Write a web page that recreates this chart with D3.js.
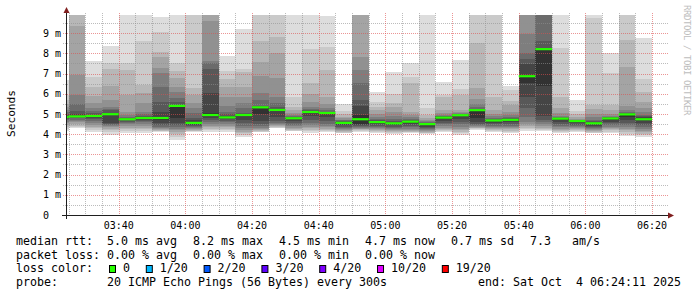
<!DOCTYPE html>
<html><head><meta charset="utf-8">
<script src="https://cdn.jsdelivr.net/npm/d3@7"></script>
<style>
html,body{margin:0;padding:0;background:#fff;}
svg{display:block;}
text{font-family:"DejaVu Sans Mono",monospace;}
</style></head><body>
<svg id="c" width="697" height="297"></svg>
<script>
// ---- data ----
const barEnd = ["03:25","03:30","03:35","03:40","03:45","03:50","03:55","04:00","04:05","04:10",
  "04:15","04:20","04:25","04:30","04:35","04:40","04:45","04:50","04:55","05:00",
  "05:05","05:10","05:15","05:20","05:25","05:30","05:35","05:40","05:45","05:50",
  "05:55","06:00","06:05","06:10","06:15","06:20"];
const medians = [4.85,4.88,4.9,4.99,4.74,4.8,4.8,5.4,4.56,4.95,
  4.83,4.95,5.33,5.2,4.79,5.1,5.05,4.56,4.74,4.6,
  4.54,4.62,4.5,4.82,4.94,5.19,4.68,4.71,6.87,8.21,
  4.77,4.65,4.54,4.78,4.98,4.74];
// 20 sorted ping times (ms) per 300 s step
const pings = [
 [4.15,4.25,4.35,4.45,4.55,4.62,4.7,4.76,4.8,4.83,4.87,4.92,5.0,5.1,5.2,5.35,5.5,5.7,5.95,6.7],
 [4.29,4.35,4.42,4.5,4.58,4.65,4.72,4.78,4.83,4.86,4.92,5.0,5.15,5.48,5.94,6.93,9.36,10.5,11.5,12.5],
 [4.12,4.2,4.3,4.38,4.46,4.56,4.66,4.75,4.82,4.87,4.93,4.97,5.03,5.15,5.3,5.56,5.88,6.32,6.85,7.63],
 [3.96,4.1,4.2,4.28,4.35,4.41,4.46,4.5,4.55,4.96,5.02,5.07,5.2,5.25,5.36,5.69,6.39,7.23,7.51,8.37],
 [4.06,4.15,4.24,4.32,4.4,4.48,4.55,4.62,4.68,4.72,4.76,4.78,4.82,4.87,4.95,5.11,5.94,7.18,7.51,10.5],
 [4.06,4.15,4.24,4.33,4.42,4.5,4.58,4.66,4.72,4.77,4.83,4.87,4.92,4.98,5.11,5.53,6.02,6.44,8.63,10.2],
 [4.12,4.15,4.18,4.22,4.27,4.32,4.38,4.45,4.56,4.72,4.84,5.11,5.61,6.32,7.05,7.26,7.8,8.08,9.07,9.82],
 [3.71,3.85,4.0,4.1,4.2,4.27,4.35,4.45,4.57,4.79,5.42,5.45,5.61,5.81,6.1,6.32,6.77,7.13,7.54,10.5],
 [4.12,4.15,4.18,4.22,4.26,4.3,4.35,4.4,4.45,4.52,4.6,4.68,4.8,5.03,5.3,5.53,5.94,6.27,10.3,11],
 [4.12,4.2,4.28,4.35,4.42,4.5,4.6,4.72,4.82,4.9,5.03,6.02,7.21,7.54,7.6,9.62,10.0,10.2,10.6,11],
 [4.12,4.19,4.26,4.34,4.42,4.5,4.58,4.66,4.74,4.8,4.87,4.92,4.98,5.1,5.4,5.86,6.32,6.75,7.14,7.87],
 [3.88,3.96,4.05,4.12,4.22,4.32,4.42,4.55,4.7,4.9,4.97,4.99,5.03,5.3,5.53,5.83,6.32,7.1,7.21,9.19],
 [4.1,4.13,4.16,4.2,4.26,4.32,4.4,4.5,4.67,5.0,5.35,5.37,5.4,5.69,6.06,6.88,7.59,8.63,10.3,11],
 [4.29,4.33,4.37,4.41,4.45,4.5,4.56,4.65,4.85,5.15,5.24,5.27,5.35,5.55,5.86,6.77,8.0,8.83,10.1,10.4],
 [4.14,4.18,4.22,4.27,4.33,4.4,4.47,4.55,4.65,4.74,4.81,4.83,4.86,4.9,4.95,5.05,5.2,5.36,5.86,10.5],
 [4.08,4.15,4.22,4.3,4.38,4.45,4.55,4.72,4.92,5.05,5.12,5.15,5.18,5.25,5.36,5.6,6.0,6.52,8.2,10.5],
 [4.1,4.16,4.22,4.28,4.35,4.42,4.5,4.65,4.85,5.0,5.07,5.09,5.12,5.18,5.3,5.5,5.86,7.18,8.33,9.85],
 [4.04,4.07,4.1,4.15,4.2,4.26,4.32,4.38,4.45,4.53,4.59,4.61,4.64,4.68,4.72,4.78,4.85,4.98,5.15,5.48],
 [4.12,4.16,4.2,4.24,4.28,4.32,4.36,4.41,4.46,4.52,4.95,5.4,5.69,6.52,7.2,7.84,10.1,10.5,11,12],
 [4.05,4.1,4.15,4.2,4.25,4.3,4.36,4.42,4.48,4.55,4.63,4.66,4.7,4.76,4.85,5.0,5.2,5.36,5.61,6.1],
 [4.02,4.07,4.12,4.17,4.22,4.27,4.32,4.38,4.44,4.5,4.57,4.6,4.65,4.75,4.9,5.1,5.35,5.53,5.99,7.1],
 [4.07,4.1,4.13,4.17,4.22,4.28,4.34,4.4,4.48,4.57,4.64,4.66,4.7,4.75,4.85,4.95,5.11,6.55,6.85,7.54],
 [4.02,4.05,4.08,4.12,4.16,4.21,4.26,4.32,4.38,4.46,4.53,4.54,4.56,4.59,4.64,4.7,4.8,4.95,5.28,10.5],
 [4.12,4.16,4.21,4.27,4.33,4.4,4.48,4.57,4.67,4.76,4.85,4.87,4.89,4.92,4.97,5.05,5.2,5.85,5.94,6.6],
 [3.98,4.05,4.12,4.2,4.28,4.38,4.48,4.6,4.75,4.88,4.96,4.97,4.98,5.0,5.03,5.08,5.2,5.94,6.22,7.67],
 [4.23,4.26,4.29,4.32,4.35,4.39,4.44,4.5,4.6,4.8,5.21,5.23,5.27,5.35,5.5,5.73,6.27,8.53,10.2,10.8],
 [4.1,4.15,4.2,4.25,4.3,4.36,4.42,4.49,4.56,4.63,4.7,4.72,4.75,4.8,4.88,5.0,5.2,5.86,10.2,11],
 [4.06,4.12,4.18,4.24,4.3,4.36,4.43,4.5,4.58,4.66,4.73,4.75,4.78,4.85,4.95,5.1,5.45,5.65,6.19,6.39],
 [4.16,4.24,4.32,4.4,4.5,4.62,4.87,5.3,5.86,6.52,6.93,7.48,7.7,8.0,8.96,10.1,10.5,11,11.5,12],
 [4.15,4.21,4.27,4.33,4.4,4.48,4.58,4.72,4.92,6.4,8.24,8.27,8.63,10.1,10.4,10.8,11.2,11.6,12,12.5],
 [4.06,4.11,4.16,4.22,4.28,4.35,4.42,4.5,4.6,4.7,4.79,4.8,4.82,4.85,4.92,5.05,5.28,5.86,8.25,10.5],
 [4.1,4.15,4.2,4.25,4.3,4.36,4.41,4.47,4.53,4.6,4.66,4.67,4.68,4.69,4.72,4.77,4.85,4.98,5.16,5.69],
 [4.04,4.08,4.12,4.16,4.21,4.26,4.31,4.37,4.43,4.5,4.57,4.6,4.65,4.72,4.85,5.0,5.25,5.45,9.74,10.5],
 [4.07,4.13,4.19,4.25,4.31,4.38,4.45,4.53,4.62,4.72,4.81,4.82,4.83,4.85,4.9,5.0,5.2,5.45,7.01,8.04],
 [3.92,4.0,4.1,4.19,4.27,4.35,4.45,4.55,4.7,4.85,5.0,5.02,5.04,5.1,5.2,5.4,7.34,8.66,10.2,10.8],
 [3.88,3.95,4.02,4.1,4.17,4.25,4.35,4.45,4.55,4.7,4.8,4.83,4.88,4.95,5.1,5.3,5.61,6.1,6.72,8.74]
];
const xTickLabels = ["03:40","04:00","04:20","04:40","05:00","05:20","05:40","06:00","06:20"];
const yTickValues = [0,1,2,3,4,5,6,7,8,9];
const yTickLabels = ["0","1 m","2 m","3 m","4 m","5 m","6 m","7 m","8 m","9 m"];
const lossLabels = ["0","1/20","2/20","3/20","4/20","10/20","19/20"];
const lossColors = ["#26ff00","#00b8ff","#0059ff","#5e00ff","#7e00ff","#dd00ff","#ff0000"];
const medianStats = ["5.0 ms avg","8.2 ms max","4.5 ms min","4.7 ms now","0.7 ms sd","7.3   am/s"];
const lossStats = ["0.00 % avg","0.00 % max","0.00 % min","0.00 % now"];
const probeText = "20 ICMP Echo Pings (56 Bytes) every 300s";
const endText = "end: Sat Oct  4 06:24:11 2025";
const yMax = 9.9;
const stepSec = 300;

// ---- layout ----
const L = 66, R = 666, T = 15, B = 215;
const svg = d3.select("#c");
svg.append("rect").attr("width",697).attr("height",297).attr("fill","#fff");

const tAt = (h,m,s) => new Date(Date.UTC(2025,9,4,h,m,s||0));
const parseT = str => { const [h,m] = str.split(":").map(Number); return tAt(h,m,0); };
const x = d3.scaleUtc().domain([tAt(3,24,11), tAt(6,24,11)]).range([L,R]);
const y = d3.scaleLinear().domain([0,yMax]).range([B,T]);

svg.append("defs").append("clipPath").attr("id","plot")
  .append("rect").attr("x",L).attr("y",T).attr("width",R-L).attr("height",B-T);

// ---- smoke ----
const gSmoke = svg.append("g").attr("clip-path","url(#plot)").attr("shape-rendering","crispEdges");
pings.forEach((p,i) => {
  const te = parseT(barEnd[i]);
  const ts = new Date(te.getTime() - stepSec*1000);
  const x0 = x(ts), x1 = x(te);
  for (let k = 1; k <= 10; k++) {
    const lo = p[k-1], hi = p[20-k];
    const c = 19*(10-k) + 50;
    gSmoke.append("rect")
      .attr("x", x0).attr("width", x1 - x0)
      .attr("y", y(hi)).attr("height", Math.max(0, y(lo) - y(hi)))
      .attr("fill", d3.rgb(c,c,c));
  }
});

// ---- grid (drawn on top) ----
const gGrid = svg.append("g");
const minorGrid = "rgba(143,143,143,0.6)", majorGrid = "rgba(222,79,79,0.6)";
y.ticks(20).filter(v => v > 0).forEach(v => {
  const yy = Math.round(y(v)) + 0.5;
  const major = Math.abs(v - Math.round(v)) < 1e-9;
  gGrid.append("line").attr("x1",L-3).attr("x2",R+2).attr("y1",yy).attr("y2",yy)
    .attr("stroke", major ? majorGrid : minorGrid).attr("stroke-dasharray","1,1");
});
d3.utcMinute.every(5).range(x.domain()[0], x.domain()[1]).forEach(t => {
  const xx = Math.round(x(t)) + 0.5;
  const major = t.getUTCMinutes() % 20 === 0;
  gGrid.append("line").attr("x1",xx).attr("x2",xx).attr("y1",T-2).attr("y2",B+2)
    .attr("stroke", major ? majorGrid : minorGrid).attr("stroke-dasharray","1,1");
});

// ---- median lines ----
const gMed = svg.append("g").attr("clip-path","url(#plot)");
medians.forEach((m,i) => {
  const te = parseT(barEnd[i]);
  const ts = new Date(te.getTime() - stepSec*1000);
  gMed.append("line").attr("x1",x(ts)).attr("x2",x(te))
    .attr("y1",y(m)).attr("y2",y(m))
    .attr("stroke",lossColors[0]).attr("stroke-width",2.2);
});

// ---- axes ----
const axisCol = "#1f1f1f", arrowCol = "#801f1f";
svg.append("line").attr("x1",62).attr("x2",669).attr("y1",B+0.5).attr("y2",B+0.5).attr("stroke",axisCol);
svg.append("line").attr("x1",L+0.5).attr("x2",L+0.5).attr("y1",219).attr("y2",11).attr("stroke",axisCol);
svg.append("path").attr("d",`M668,${B-2.5}L674,${B+0.5}L668,${B+3.5}Z`).attr("fill",arrowCol);
svg.append("path").attr("d",`M${L-2.5},13L${L+0.5},7L${L+3.5},13Z`).attr("fill",arrowCol);

// y labels
yTickValues.forEach((v,i) => {
  svg.append("text").attr("x",43).attr("y",y(v)+3.6)
    .attr("font-size","10px").attr("fill","#000").text(yTickLabels[i]);
});
// x labels
xTickLabels.forEach(s => {
  svg.append("text").attr("x",x(parseT(s))).attr("y",229).attr("text-anchor","middle")
    .attr("font-size","10px").attr("fill","#000").text(s);
});

// axis title
svg.append("text").attr("transform","translate(15,113.5) rotate(-90)")
  .attr("text-anchor","middle").attr("font-size","11.2px").attr("fill","#000").text("Seconds");
// watermark
svg.append("text").attr("transform","translate(684,5) rotate(90)")
  .attr("font-size","9px").attr("letter-spacing","-0.42px")
  .attr("fill","#bdbdbd").text("RRDTOOL / TOBI OETIKER");

// ---- legend ----
const fs = 11.63, cw = fs*0.602, gap = 16;
const leg = (str, xx, yy, anchor) => svg.append("text").attr("x",xx).attr("y",yy)
  .attr("font-size",fs+"px").attr("fill","#000").style("white-space","pre")
  .attr("text-anchor",anchor||"start").text(str);
const rows = [245, 258.7, 272.3, 286];
leg("median rtt:",16,rows[0]);
let cx = 107;
medianStats.forEach(s => { leg(s,cx,rows[0]); cx += s.length*cw + gap; });
leg("packet loss:",16,rows[1]);
cx = 107;
lossStats.forEach(s => { leg(s,cx,rows[1]); cx += s.length*cw + gap; });
leg("loss color:",16,rows[2]);
cx = 109;
lossLabels.forEach((s,i) => {
  svg.append("rect").attr("x",cx+0.5).attr("y",265.5).attr("width",6).attr("height",7)
    .attr("fill",lossColors[i]).attr("stroke","#000").attr("stroke-width",1);
  leg(s,cx+14,rows[2]);
  cx += 14 + s.length*cw + 15.8;
});
leg("probe:",16,rows[3]);
leg(probeText,107,rows[3]);
leg(endText,681,rows[3],"end");
</script>
</body></html>
